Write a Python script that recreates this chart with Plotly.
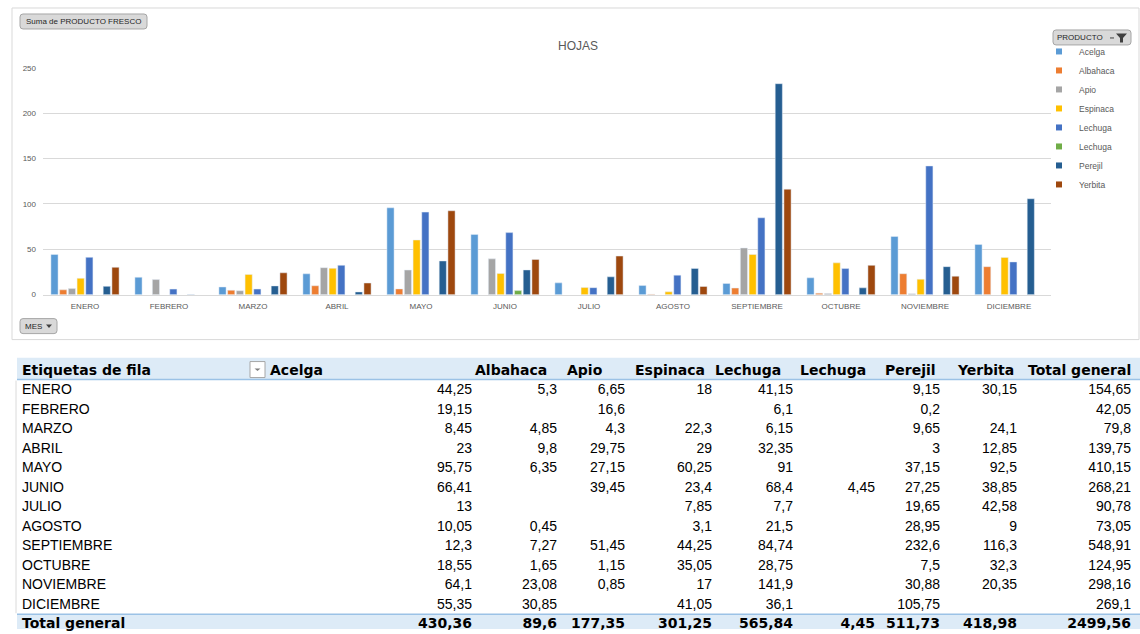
import plotly.graph_objects as go

# ---- data -------------------------------------------------------------
months = ["ENERO", "FEBRERO", "MARZO", "ABRIL", "MAYO", "JUNIO", "JULIO",
          "AGOSTO", "SEPTIEMBRE", "OCTUBRE", "NOVIEMBRE", "DICIEMBRE"]
products = ["Acelga", "Albahaca", "Apio", "Espinaca", "Lechuga", "Lechuga",
            "Perejil", "Yerbita"]

acelga = [44.25, 19.15, 8.45, 23, 95.75, 66.41, 13, 10.05, 12.3, 18.55, 64.1, 55.35]
albahaca = [5.3, None, 4.85, 9.8, 6.35, None, None, 0.45, 7.27, 1.65, 23.08, 30.85]
apio = [6.65, 16.6, 4.3, 29.75, 27.15, 39.45, None, None, 51.45, 1.15, 0.85, None]
espinaca = [18, None, 22.3, 29, 60.25, 23.4, 7.85, 3.1, 44.25, 35.05, 17, 41.05]
lechuga = [41.15, 6.1, 6.15, 32.35, 91, 68.4, 7.7, 21.5, 84.74, 28.75, 141.9, 36.1]
lechuga_2 = [None, None, None, None, None, 4.45, None, None, None, None, None, None]
perejil = [9.15, 0.2, 9.65, 3, 37.15, 27.25, 19.65, 28.95, 232.6, 7.5, 30.88, 105.75]
yerbita = [30.15, None, 24.1, 12.85, 92.5, 38.85, 42.58, 9, 116.3, 32.3, 20.35, None]

series = [acelga, albahaca, apio, espinaca, lechuga, lechuga_2, perejil, yerbita]
colors = ["#5B9BD5", "#ED7D31", "#A5A5A5", "#FFC000", "#4472C4", "#70AD47",
          "#255E91", "#9E480E"]

row_label_header = "Etiquetas de fila"
total_label = "Total general"

# pivot totals
row_totals = [round(sum(s[i] for s in series if s[i] is not None), 2)
              for i in range(len(months))]
col_totals = [round(sum(v for v in s if v is not None), 2) for s in series]
grand_total = round(sum(row_totals), 2)

W, H = 1140, 634


def fmt(v):
    if v is None:
        return ""
    s = ("%.2f" % v).rstrip("0").rstrip(".")
    return s.replace(".", ",")


def vy(y):
    # vertical placement helper (screen row -> layout row)
    return (y - 4) / 0.987


def px(x):
    return x / W


def py(y):
    return 1 - vy(y) / H


def rounded_rect(x0, y0, x1, y1, r=3):
    pts = [
        f"M{px(x0 + r)},{py(y0)}", f"L{px(x1 - r)},{py(y0)}",
        f"Q{px(x1)},{py(y0)} {px(x1)},{py(y0 + r)}", f"L{px(x1)},{py(y1 - r)}",
        f"Q{px(x1)},{py(y1)} {px(x1 - r)},{py(y1)}", f"L{px(x0 + r)},{py(y1)}",
        f"Q{px(x0)},{py(y1)} {px(x0)},{py(y1 - r)}", f"L{px(x0)},{py(y0 + r)}",
        f"Q{px(x0)},{py(y0)} {px(x0 + r)},{py(y0)}", "Z",
    ]
    return " ".join(pts)


def poly(points):
    return "M" + " L".join(f"{px(x)},{py(y)}" for x, y in points) + " Z"


fig = go.Figure()

CHART_FONT = "Liberation Sans"
GREY_TXT = "#595959"

# ---- pivot chart -------------------------------------------------------
for name, vals, col in zip(products, series, colors):
    fig.add_trace(go.Bar(x=months, y=vals, name=name, marker_color=col,
                         showlegend=False, xaxis="x", yaxis="y"))

# legend keys (small square swatches)
for name, col in zip(products, colors):
    fig.add_trace(go.Scatter(x=[None], y=[None], mode="markers", name=name,
                             marker=dict(symbol="square", size=6, color=col),
                             xaxis="x", yaxis="y"))

# ---- pivot table -------------------------------------------------------
table_rows = [row_label_header] + months + [total_label]
headers = [row_label_header] + products + [total_label]
header_x = [22, 270, 475, 567, 635, 715, 800, 885, 958, 1028]
value_right = [472, 557, 625, 712, 793, 875, 940, 1017, 1131]

BODY = dict(family="Liberation Sans", size=14, color="#000000")
BOLD = dict(family="DejaVu Sans", size=14, color="#000000", weight="bold")
TXT = dict(mode="text", xaxis="x2", yaxis="y2", showlegend=False,
           hoverinfo="skip", cliponaxis=False)

fig.add_trace(go.Scatter(
    x=header_x, y=[row_label_header] * len(headers), text=headers,
    textposition="middle right", textfont=BOLD, **TXT))

fig.add_trace(go.Scatter(
    x=[22] * len(months), y=months, text=months,
    textposition="middle right", textfont=BODY, **TXT))

fig.add_trace(go.Scatter(
    x=[22], y=[total_label], text=[total_label],
    textposition="middle right", textfont=BOLD, **TXT))

table_columns = series + [row_totals]
table_totals = col_totals + [grand_total]
for xr, vals, tot in zip(value_right, table_columns, table_totals):
    fig.add_trace(go.Scatter(
        x=[xr] * len(months), y=months, text=[fmt(v) for v in vals],
        textposition="middle left", textfont=BODY, **TXT))
    fig.add_trace(go.Scatter(
        x=[xr], y=[total_label], text=[fmt(tot)],
        textposition="middle left", textfont=BOLD, **TXT))

# table vertical mapping (layout pixels): header row point and total row point
head_pt, tot_pt = vy(370) + 1.5, 629.5
row_px = (tot_pt - head_pt) / 13
tbl_top = vy(358)
y2_top = -(head_pt - tbl_top) / row_px
y2_bottom = 13 + (H - tot_pt) / row_px


def cat(y):
    # screen row -> table category coordinate
    return (vy(y) - head_pt) / row_px


# ---- decorations -------------------------------------------------------
shapes = [
    # chart frame
    dict(type="rect", xref="paper", yref="paper", x0=px(12), x1=px(1139),
         y0=py(340), y1=py(8), line=dict(color="#D9D9D9", width=1),
         layer="below"),
    # table header band
    dict(type="rect", xref="paper", yref="y2", x0=px(17), x1=1,
         y0=y2_top, y1=cat(380), fillcolor="#DDEBF7", line=dict(width=0),
         layer="below"),
    dict(type="line", xref="paper", yref="y2", x0=px(17), x1=1,
         y0=cat(380), y1=cat(380), line=dict(color="#9BC2E6", width=1.5)),
    # grand total band
    dict(type="rect", xref="paper", yref="y2", x0=px(17), x1=1,
         y0=cat(615), y1=y2_bottom, fillcolor="#DDEBF7", line=dict(width=0),
         layer="below"),
    dict(type="line", xref="paper", yref="y2", x0=px(17), x1=1,
         y0=cat(615), y1=cat(615), line=dict(color="#9BC2E6", width=1.5)),
    # sheet column edge
    dict(type="line", xref="paper", yref="y2", x0=px(16), x1=px(16),
         y0=cat(381), y1=cat(614), line=dict(color="#DADADA", width=1)),
    # field buttons
    dict(type="path", path=rounded_rect(20, 14, 147, 29), xref="paper",
         yref="paper", fillcolor="#D9D9D9", line=dict(color="#A6A6A6", width=1)),
    dict(type="path", path=rounded_rect(20, 319, 57, 334), xref="paper",
         yref="paper", fillcolor="#D9D9D9", line=dict(color="#A6A6A6", width=1)),
    dict(type="path", path=poly([(46, 325), (52, 325), (49, 328.5)]),
         xref="paper", yref="paper", fillcolor="#404040", line=dict(width=0)),
    dict(type="path", path=rounded_rect(1053, 30, 1131, 45), xref="paper",
         yref="paper", fillcolor="#D9D9D9", line=dict(color="#A6A6A6", width=1)),
    dict(type="path", path=poly([(1116, 33.5), (1127, 33.5), (1123, 38),
                                 (1123, 42.5), (1120, 42.5), (1120, 38)]),
         xref="paper", yref="paper", fillcolor="#404040", line=dict(width=0)),
    dict(type="line", xref="paper", yref="paper", x0=px(1110), x1=px(1114),
         y0=py(38), y1=py(38), line=dict(color="#404040", width=1)),
    # header filter dropdown
    dict(type="rect", xref="paper", yref="paper", x0=px(250), x1=px(265),
         y0=py(378), y1=py(362), fillcolor="#FFFFFF",
         line=dict(color="#A6A6A6", width=1)),
    dict(type="path", path=poly([(254.5, 369), (260.5, 369), (257.5, 371.5)]),
         xref="paper", yref="paper", fillcolor="#7F7F7F", line=dict(width=0)),
]

BTN_FONT = dict(family=CHART_FONT, size=8, color="#262626")
annotations = [
    dict(text="HOJAS", x=px(578), y=py(46), xref="paper", yref="paper",
         xanchor="center", yanchor="middle", showarrow=False,
         font=dict(family=CHART_FONT, size=12, color=GREY_TXT)),
    dict(text="Suma de PRODUCTO FRESCO", x=px(83.5), y=py(21.5),
         xref="paper", yref="paper", xanchor="center", yanchor="middle",
         showarrow=False, font=BTN_FONT),
    dict(text="MES", x=px(23), y=py(326.5), xref="paper", yref="paper",
         xanchor="left", yanchor="middle", showarrow=False, font=BTN_FONT),
    dict(text="PRODUCTO", x=px(1055), y=py(37.5), xref="paper", yref="paper",
         xanchor="left", yanchor="middle", showarrow=False, font=BTN_FONT),
]

fig.update_layout(
    width=W, height=H,
    margin=dict(l=0, r=0, t=0, b=0),
    paper_bgcolor="#FFFFFF", plot_bgcolor="rgba(0,0,0,0)",
    barmode="group", bargap=0.17, bargroupgap=0.18,
    font=dict(family=CHART_FONT, color=GREY_TXT),
    xaxis=dict(domain=[px(43), px(1051)], anchor="y", type="category",
               showgrid=False, showline=True, linecolor="#D9D9D9",
               ticks="", tickfont=dict(size=8, color=GREY_TXT),
               ticklabelstandoff=4, fixedrange=True),
    yaxis=dict(domain=[py(295), py(68)], anchor="x", range=[0, 250],
               dtick=50, showgrid=True, gridcolor="#D9D9D9", zeroline=False,
               showline=False, ticks="", tickfont=dict(size=8, color=GREY_TXT),
               ticklabelstandoff=6, fixedrange=True),
    xaxis2=dict(domain=[0, 1], anchor="y2", range=[0, W], visible=False,
                fixedrange=True),
    yaxis2=dict(domain=[0, 1 - tbl_top / H], anchor="x2", type="category",
                categoryorder="array", categoryarray=table_rows,
                range=[y2_bottom, y2_top], visible=False, fixedrange=True),
    legend=dict(x=px(1039), y=py(37), xanchor="left", yanchor="top",
                bgcolor="rgba(0,0,0,0)",
                font=dict(family=CHART_FONT, size=8.5, color=GREY_TXT),
                itemwidth=30),
    shapes=shapes,
    annotations=annotations,
)

fig.write_html("out.html")
